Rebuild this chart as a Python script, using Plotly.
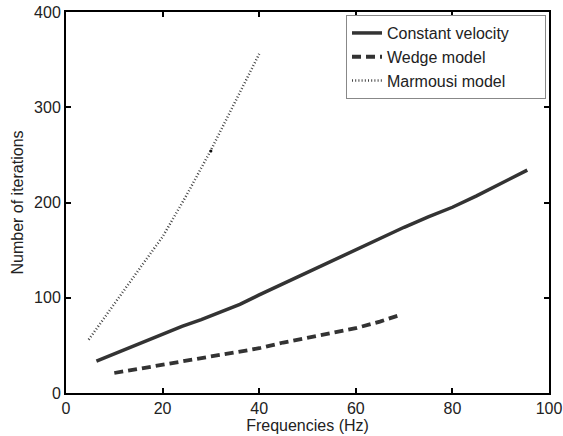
import plotly.graph_objects as go

# Data
cv_x = [6.3, 10, 15.4, 20, 24, 28, 32, 36, 40, 45, 50, 55, 60, 65, 70, 75, 80, 85, 90, 95.5]
cv_y = [33.5, 41, 52, 61, 70, 77, 85, 93, 103, 115, 127, 139, 151, 163, 174, 185, 195, 207, 220, 234]

wedge_x = [10, 20, 30, 40, 45, 50, 55, 60, 65, 69.5]
wedge_y = [21, 30, 38.5, 47, 53, 58, 63, 68, 75, 82.5]

marm_x = [4.7, 8, 12, 16, 20, 25, 30, 35, 40]
marm_y = [56, 79, 108, 136, 164, 208, 255, 305, 356]

# small isolated dot visible on the Marmousi curve
dot_x = [30]
dot_y = [254]

x_ticks = [0, 20, 40, 60, 80, 100]
y_ticks = [0, 100, 200, 300, 400]

NBSP = "\u00a0"
line_col = "#333333"
font = dict(family="Liberation Sans, Arial, Helvetica, sans-serif", size=16, color="#222222")

fig = go.Figure()
fig.add_trace(go.Scatter(x=cv_x, y=cv_y, mode="lines", name="Constant velocity" + NBSP * 7,
                         line=dict(color=line_col, width=3.5)))
fig.add_trace(go.Scatter(x=wedge_x, y=wedge_y, mode="lines", name="Wedge model",
                         line=dict(color=line_col, width=3.8, dash="9px,5px")))
fig.add_trace(go.Scatter(x=marm_x, y=marm_y, mode="lines", name="Marmousi model",
                         line=dict(color="#444444", width=2.5, dash="1px,2.2px")))
fig.add_trace(go.Scatter(x=dot_x, y=dot_y, mode="markers", showlegend=False,
                         marker=dict(color="#111111", size=3)))

axis_common = dict(showgrid=False, zeroline=False, showline=True, linecolor="black",
                   linewidth=2, mirror="ticks", ticks="inside", ticklen=5, tickwidth=2,
                   tickcolor="black", tickfont=font, automargin=False)

fig.update_xaxes(range=[0, 100], tickvals=x_ticks,
                 title=dict(text="Frequencies (Hz)", font=font, standoff=2), **axis_common)
fig.update_yaxes(range=[0, 400], tickvals=y_ticks,
                 title=dict(text="Number of iterations", font=font, standoff=6), **axis_common)

fig.update_layout(
    width=563, height=436,
    margin=dict(l=66, r=14, t=12, b=43),
    paper_bgcolor="white", plot_bgcolor="white",
    font=font,
    showlegend=True,
    legend=dict(x=0.9938, y=0.992, xanchor="right", yanchor="top",
                bgcolor="white", bordercolor="#888888", borderwidth=1,
                font=font, tracegroupgap=0, itemwidth=30),
)

fig.write_html("out.html")
